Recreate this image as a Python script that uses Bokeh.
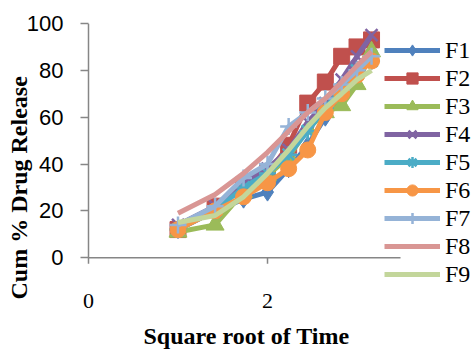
import math
from bokeh.plotting import figure
from bokeh.models import Range1d, FixedTicker, Legend, LegendItem, Title
from bokeh.embed import file_html
from bokeh.resources import INLINE

time_points = [1, 2, 3, 4, 5, 6, 7, 8, 9, 10]
sqrt_time = [math.sqrt(t) for t in time_points]

F1 = [12, 20, 25, 28, 38, 48, 60, 70, 80, 88]
F2 = [12, 22, 30, 36, 48, 66, 75, 86, 90, 93]
F3 = [11, 14, 28, 35, 43, 55, 62, 65, 74, 88]
F4 = [14, 22, 32, 38, 46, 58, 66, 76, 86, 95]
F5 = [12, 20, 30, 36, 44, 54, 64, 72, 80, 84]
F6 = [12, 20, 26, 32, 38, 46, 62, 70, 78, 84]
F7 = [14, 22, 34, 40, 56, 62, 68, 74, 80, 86]
F8 = [19, 27, 36, 45, 54, 62, 68, 75, 82, 88]
F9 = [15, 18, 26, 36, 46, 56, 64, 70, 76, 80]

series_names = ["F1", "F2", "F3", "F4", "F5", "F6", "F7", "F8", "F9"]
series_values = [F1, F2, F3, F4, F5, F6, F7, F8, F9]
colors = ["#4F81BD", "#C0504D", "#9BBB59", "#8064A2", "#4BACC6",
          "#F79646", "#95B3D7", "#D99694", "#C3D69B"]
markers = ["diamond", "square", "triangle", "x", "asterisk",
           "circle", "cross", None, None]

y_ticks = [0, 20, 40, 60, 80, 100]
x_ticks = [0, 2]
x_tick_labels = ["0", "2"]
x_axis_max = 3.486
y_min, y_max = 0, 100

p = figure(width=471, height=358, output_backend="svg", toolbar_location=None,
           x_range=Range1d(-0.0894, 4.279), y_range=Range1d(-22.55, 100),
           min_border_left=80, min_border_right=0,
           min_border_top=23, min_border_bottom=47)
p.outline_line_color = None
p.xgrid.visible = False
p.ygrid.visible = False
p.xaxis.visible = False
p.background_fill_color = "white"
p.border_fill_color = "white"

axis_col = "#868686"
ya = p.yaxis[0]
ya.axis_line_color = None
ya.major_tick_line_color = axis_col
ya.major_tick_line_width = 1.5
ya.minor_tick_line_color = None
ya.major_label_text_font = "Liberation Sans"
ya.major_label_text_font_size = "22px"
ya.major_label_text_color = "black"
ya.ticker = FixedTicker(ticks=y_ticks)
ya.major_tick_in = 8
ya.major_tick_out = 0
ya.major_label_standoff = 17

# axis lines, x tick marks and x tick labels (limited to the axis extent)
p.segment(x0=[0, 0], y0=[0, y_min], x1=[x_axis_max, 0], y1=[0, y_max],
          line_color=axis_col, line_width=1.5)
p.segment(x0=x_ticks, y0=[0] * len(x_ticks), x1=x_ticks, y1=[-2.6] * len(x_ticks),
          line_color=axis_col, line_width=1.5)
p.text(x=x_ticks, y=[-18.7] * len(x_ticks), text=x_tick_labels,
       text_align="center", text_baseline="middle",
       text_font="Liberation Sans", text_font_size="22px", text_color="black")

title_font = "Liberation Serif"
ytitle = Title(text="Cum % Drug Release", align="left", offset=11, standoff=-17,
               text_font=title_font, text_font_style="bold", text_font_size="24px",
               text_color="black")
p.add_layout(ytitle, "left")
xtitle = Title(text="Square root of Time", align="left", offset=63, standoff=20,
               text_font=title_font, text_font_style="bold", text_font_size="24px",
               text_color="black")
p.add_layout(xtitle, "below")

items = []
for name, vals, col, mk in zip(series_names, series_values, colors, markers):
    rs = []
    rs.append(p.line(sqrt_time, vals, line_color=col, line_width=5))
    if mk is not None:
        if mk in ("x", "asterisk", "cross"):
            rs.append(p.scatter(sqrt_time, vals, marker=mk, size=17,
                                line_color=col, line_width=2.5, fill_color=None))
        else:
            sz = 18 if mk in ("diamond", "triangle") else 16
            rs.append(p.scatter(sqrt_time, vals, marker=mk, size=sz,
                                line_color=col, fill_color=col))
    items.append(LegendItem(label=name, renderers=rs))

legend = Legend(items=items, location=(304, 22))
legend.label_text_font = "Liberation Serif"
legend.label_text_font_size = "24px"
legend.label_text_color = "black"
legend.glyph_width = 56
legend.glyph_height = 28
legend.label_height = 28
legend.spacing = -1
legend.padding = 0
legend.margin = 0
legend.label_standoff = 5
legend.border_line_color = None
legend.background_fill_alpha = 0
p.add_layout(legend, "center")

open("out.html", "w").write(file_html(p, INLINE))
